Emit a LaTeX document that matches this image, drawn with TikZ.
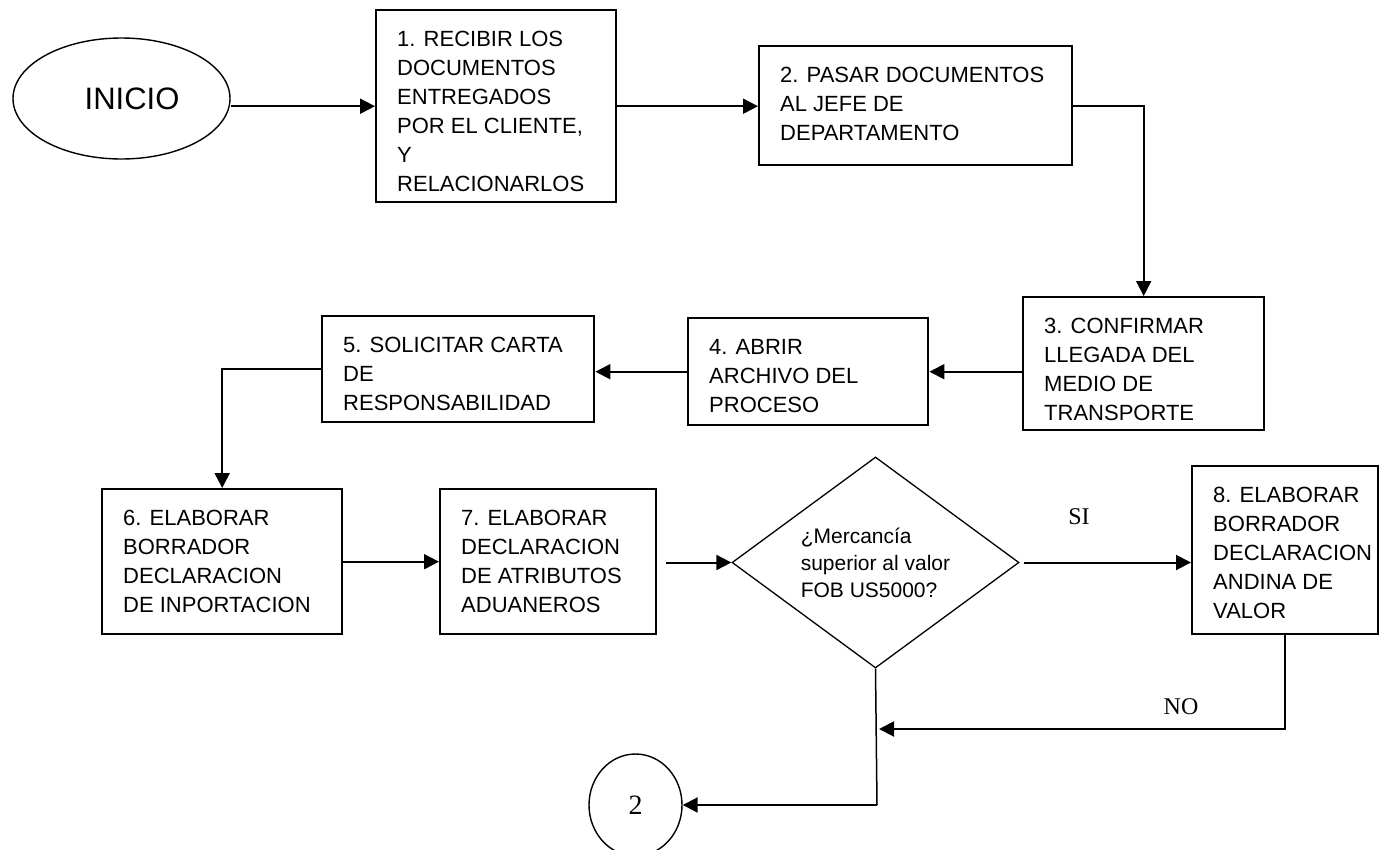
\documentclass[tikz,border=0pt]{standalone}
\usepackage{fontspec}
\setmainfont{Liberation Sans}
\newfontfamily\labelserif{Liberation Serif}
\usetikzlibrary{arrows.meta,shapes.geometric}

% fixed-size step body: text starts at the top, indented from the left edge
\newcommand{\stepbody}[3]{\parbox[c][#2][t]{#1}{\leftskip=21pt\rightskip=0pt plus 1fil\hyphenpenalty=10000\rule{0pt}{36pt}#3\par}}

\tikzset{
  stepbox/.style={draw, rectangle, line width=2.4pt, inner sep=0pt, anchor=north west,
                  font=\fontsize{22}{29}\selectfont},
  flow/.style={line width=2pt, -{Triangle[length=15pt,width=15pt]}},
  terminal/.style={draw, ellipse, line width=1.4pt, inner sep=0pt},
  decision/.style={draw, diamond, aspect=1.36, line width=1.3pt, inner sep=0pt,
                   minimum width=287pt, minimum height=211pt, align=left,
                   font=\fontsize{21}{27}\selectfont},
  branch/.style={font=\labelserif\fontsize{24}{24}\selectfont}
}

\begin{document}
\begin{tikzpicture}[x=1pt, y=-1pt]
\useasboundingbox (0,0) rectangle (1379,849);

% start
\node[terminal, minimum width=217pt, minimum height=121pt, font=\fontsize{31}{31}\selectfont]
  (inicio) at (121.5,98.5) {\hspace*{21pt}INICIO};

% process steps
\node[stepbox] (b1) at (375,9)    {\stepbody{240pt}{192pt}{1. RECIBIR LOS\\DOCUMENTOS\\ENTREGADOS\\POR EL CLIENTE,\\Y\\RELACIONARLOS}};
\node[stepbox] (b2) at (758,45)   {\stepbody{313pt}{119pt}{2. PASAR DOCUMENTOS\\AL JEFE DE\\DEPARTAMENTO}};
\node[stepbox] (b3) at (1022,296) {\stepbody{241pt}{133pt}{3. CONFIRMAR\\LLEGADA DEL\\MEDIO DE\\TRANSPORTE}};
\node[stepbox] (b4) at (687,317)  {\stepbody{240pt}{107pt}{4. ABRIR\\ARCHIVO DEL\\PROCESO}};
\node[stepbox] (b5) at (321,315)  {\stepbody{272pt}{106pt}{5. SOLICITAR CARTA\\DE\\RESPONSABILIDAD}};
\node[stepbox] (b6) at (101,488)  {\stepbody{240pt}{145pt}{6. ELABORAR\\BORRADOR\\DECLARACION\\DE INPORTACION}};
\node[stepbox] (b7) at (439,488)  {\stepbody{216pt}{145pt}{7. ELABORAR\\DECLARACION\\DE ATRIBUTOS\\ADUANEROS}};
\node[stepbox] (b8) at (1191,465) {\stepbody{186pt}{168pt}{8. ELABORAR\\BORRADOR\\DECLARACION\\ANDINA DE\\VALOR}};

% decision
\node[decision] (dec) at (875.5,562.5) {¿Mercancía\\superior al valor\\FOB US5000?};

% connector to the next page
\node[terminal, minimum width=93pt, minimum height=102pt, font=\labelserif\fontsize{28}{28}\selectfont]
  (circ) at (635.5,805) {2};

% branch labels
\node[branch] (si) at (1079,517) {SI};
\node[branch] (no) at (1181,707) {NO};

% connectors
\draw[flow] (inicio.east |- b1.west) -- (b1.west);
\draw[flow] (b1.east) -- (b1.east -| b2.west);
\draw[flow] (b2.east) -| (b3.north);
\draw[flow] (b4.east -| b3.west) -- (b4.east);
\draw[flow] (b4.west) -- (b4.west -| b5.east);
\draw[flow] (b5.west) -| (b6.north);
\draw[flow] (b6.east) -- (b7.west);
\draw[flow, shorten <=9pt] (b7.east |- dec.west) -- (dec.west);
\draw[flow, shorten <=4pt] (dec.east) -- (dec.east -| b8.west);

\coordinate (join) at (879,729);
\coordinate (turn) at (877,805);
\draw[flow] (b8.south) |- (join);
\draw[line width=1.5pt] (dec.south) -- (turn);
\draw[flow] (turn) -- (turn -| circ.east);
\end{tikzpicture}
\end{document}
